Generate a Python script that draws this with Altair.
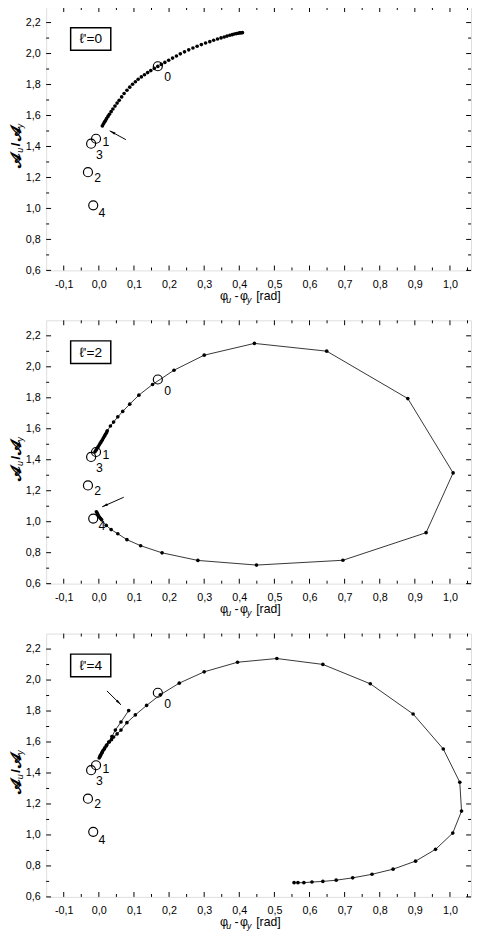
import math
import altair as alt
import pandas as pd

# ---------------- data ----------------
X_MIN, X_MAX = -0.15, 1.06
Y_MIN, Y_MAX = 0.6, 2.3
W, H = 434, 269

x_major = [-0.1, 0.0, 0.1, 0.2, 0.3, 0.4, 0.5, 0.6, 0.7, 0.8, 0.9, 1.0]
x_minor = [-0.05, 0.05, 0.15, 0.25, 0.35, 0.45, 0.55, 0.65, 0.75, 0.85, 0.95, 1.05]
y_major = [0.6, 0.8, 1.0, 1.2, 1.4, 1.6, 1.8, 2.0, 2.2]
y_minor = [0.7, 0.9, 1.1, 1.3, 1.5, 1.7, 1.9, 2.1]

# reference open circles (same in all panels)
ref_labels = ["0", "1", "3", "2", "4"]
ref_x = [0.168, -0.008, -0.022, -0.031, -0.016]
ref_y = [1.918, 1.450, 1.418, 1.234, 1.020]

# panel l'=0
p1_x = [0.010, 0.013, 0.016, 0.019, 0.022, 0.026, 0.030, 0.035, 0.040, 0.046,
        0.052, 0.058, 0.065, 0.072, 0.080, 0.088, 0.096, 0.104, 0.112, 0.121,
        0.130, 0.139, 0.148, 0.158, 0.168, 0.178, 0.188, 0.199, 0.210, 0.221,
        0.232, 0.244, 0.256, 0.268, 0.280, 0.292, 0.304, 0.316, 0.327, 0.338,
        0.348, 0.357, 0.365, 0.373, 0.380, 0.386, 0.392, 0.397, 0.401, 0.405, 0.409]
p1_y = [1.533, 1.545, 1.557, 1.568, 1.580, 1.594, 1.608, 1.625, 1.642, 1.661,
        1.680, 1.698, 1.720, 1.742, 1.763, 1.783, 1.802, 1.818, 1.834, 1.849,
        1.863, 1.877, 1.890, 1.904, 1.917, 1.930, 1.943, 1.957, 1.971, 1.984,
        1.998, 2.011, 2.024, 2.036, 2.047, 2.058, 2.068, 2.077, 2.086, 2.094,
        2.101, 2.107, 2.113, 2.118, 2.122, 2.126, 2.129, 2.131, 2.133, 2.134, 2.135]
p1_arrow_x = [0.077, 0.031]
p1_arrow_y = [1.444, 1.501]

# panel l'=2
p2_x = [-0.011, -0.008, -0.005, -0.002, 0.001, 0.004, 0.007, 0.010, 0.013, 0.016,
        0.019, 0.022, 0.024, 0.033, 0.042, 0.054, 0.068, 0.088, 0.114, 0.153,
        0.214, 0.300, 0.443, 0.649, 0.880, 1.009, 0.932, 0.695, 0.449, 0.282,
        0.180, 0.119, 0.080, 0.054, 0.035, 0.021, 0.008, 0.005, 0.002, -0.001,
        -0.003, -0.005, -0.007]
p2_y = [1.451, 1.462, 1.473, 1.484, 1.495, 1.506, 1.517, 1.528, 1.540, 1.552,
        1.564, 1.576, 1.587, 1.618, 1.643, 1.677, 1.712, 1.759, 1.817, 1.886,
        1.978, 2.075, 2.151, 2.101, 1.795, 1.315, 0.929, 0.751, 0.720, 0.750,
        0.799, 0.845, 0.884, 0.922, 0.949, 0.976, 1.012, 1.020, 1.029, 1.038,
        1.047, 1.056, 1.064]
p2_arrow_x = [0.071, 0.0095]
p2_arrow_y = [1.158, 1.096]

# panel l'=4
p3_x = [0.085, 0.063, 0.047, 0.037, 0.028, 0.021, 0.015, 0.010, 0.006, 0.003,
        0.001, 0.004, 0.008, 0.012, 0.017, 0.023, 0.030, 0.036, 0.042, 0.052,
        0.063, 0.080, 0.104, 0.136, 0.175, 0.229, 0.300, 0.395, 0.507, 0.638,
        0.773, 0.895, 0.981, 1.028, 1.033, 1.008, 0.959, 0.902, 0.838, 0.778,
        0.723, 0.676, 0.638, 0.607, 0.584, 0.567, 0.556]
p3_y = [1.803, 1.729, 1.677, 1.635, 1.600, 1.575, 1.553, 1.535, 1.518, 1.505,
        1.497, 1.512, 1.528, 1.545, 1.563, 1.582, 1.600, 1.615, 1.632, 1.652,
        1.677, 1.725, 1.775, 1.836, 1.905, 1.980, 2.053, 2.115, 2.139, 2.101,
        1.976, 1.781, 1.555, 1.340, 1.154, 1.012, 0.907, 0.831, 0.779, 0.746,
        0.723, 0.708, 0.700, 0.696, 0.692, 0.692, 0.692]
p3_arrow_x = [0.023, 0.063]
p3_arrow_y = [1.930, 1.840]

panel_labels = ["\u2113'=0", "\u2113'=2", "\u2113'=4"]

# axis title pieces (main text / subscripts)
x_title_parts = ["\u03c6", "u", "-", "\u03c6", "y", "[rad]"]
y_title_parts = ["\U0001D4D0", "u", "/", "\U0001D4D0", "y"]

# ---------------- styling ----------------
FONT = "Liberation Sans"
XS = alt.Scale(domain=[X_MIN, X_MAX], nice=False, zero=False)
YS = alt.Scale(domain=[Y_MIN, Y_MAX], nice=False, zero=False)
LBL = "replace(replace(format(datum.value, '.1f'), '.', ','), '\u2212', '-')"
X_AX = alt.Axis(values=x_major, labelExpr=LBL, ticks=False, domain=False, grid=False,
                title=None, labelFont=FONT, labelFontSize=11, labelColor="black",
                labelPadding=8, labelFlush=False)
Y_AX = alt.Axis(values=y_major, labelExpr=LBL, ticks=False, domain=False, grid=False,
                title=None, labelFont=FONT, labelFontSize=11, labelColor="black",
                labelPadding=6)

label_dx = {"0": 6.5, "1": 6.5, "3": 5, "2": 6.5, "4": 5.5}
label_dy = {"0": 11.5, "1": 3.5, "3": 11.5, "2": 6, "4": 8}
BLACK = alt.value("black")

# placement of title pieces (pixel centres relative to the plot area)
X_T_POS = [181.5, 186.5, 194.5, 202, 207.5, 227]
X_T_SUB = [False, True, False, False, True, False]
Y_T_POS = [158, 147.5, 141.5, 131, 122.5]
Y_T_SUB = [False, True, False, False, True]


def tick_layers():
    out = []
    for vals, ln in ((x_major, 5), (x_minor, 3)):
        d = pd.DataFrame({"v": vals})
        xe = alt.X("v:Q", scale=XS, axis=X_AX)
        out.append(alt.Chart(d).mark_rule(color="black", strokeWidth=1).encode(
            x=xe, y=alt.value(H), y2=alt.value(H - ln)))
        out.append(alt.Chart(d).mark_rule(color="black", strokeWidth=1).encode(
            x=xe, y=alt.value(0), y2=alt.value(ln)))
    for vals, ln in ((y_major, 5), (y_minor, 3)):
        d = pd.DataFrame({"v": vals})
        ye = alt.Y("v:Q", scale=YS, axis=Y_AX)
        out.append(alt.Chart(d).mark_rule(color="black", strokeWidth=1).encode(
            y=ye, x=alt.value(0), x2=alt.value(ln)))
        out.append(alt.Chart(d).mark_rule(color="black", strokeWidth=1).encode(
            y=ye, x=alt.value(W), x2=alt.value(W - ln)))
    return out


def title_layers():
    out = []
    d0 = pd.DataFrame({"a": [0]})
    for txt, px, sub in zip(x_title_parts, X_T_POS, X_T_SUB):
        out.append(alt.Chart(d0).mark_text(
            text=txt, font=FONT, fontSize=9 if sub else 12.5,
            fontStyle="italic" if sub else "normal",
            align="center", baseline="alphabetic").encode(
            x=alt.value(px), y=alt.value(H + 30 + (3 if sub else 0)), color=BLACK))
    for txt, py, sub in zip(y_title_parts, Y_T_POS, Y_T_SUB):
        out.append(alt.Chart(d0).mark_text(
            text=txt, font=FONT, fontSize=9 if sub else (15 if txt != "/" else 13),
            fontWeight="normal" if sub else "bold",
            fontStyle="italic" if sub else "normal", angle=270,
            align="center", baseline="middle").encode(
            x=alt.value(-27 if sub else -31), y=alt.value(py * H / 271), color=BLACK))
    return out


def panel(xs, ys, with_line, ax, ay, lab):
    df = pd.DataFrame({"x": xs, "y": ys, "i": list(range(len(xs)))})
    xe = alt.X("x:Q", scale=XS, axis=X_AX)
    ye = alt.Y("y:Q", scale=YS, axis=Y_AX)
    layers = tick_layers()
    if with_line:
        layers.append(alt.Chart(df).mark_line(color="black", strokeWidth=0.8).encode(
            x=xe, y=ye, order="i:Q"))
    layers.append(alt.Chart(df).mark_circle(color="black", size=14, opacity=1).encode(x=xe, y=ye))
    rdf = pd.DataFrame({"x": ref_x, "y": ref_y, "t": ref_labels})
    layers.append(alt.Chart(rdf).mark_point(shape="circle", filled=False, color="black",
                                            size=85, strokeWidth=1.2, opacity=1).encode(x=xe, y=ye))
    for t in ref_labels:
        sub = rdf[rdf.t == t]
        layers.append(alt.Chart(sub).mark_text(font=FONT, fontSize=12.5, align="left",
                                               baseline="middle",
                                               dx=label_dx[t], dy=label_dy[t]).encode(
            x=xe, y=ye, text="t:N", color=BLACK))
    # arrow
    adf = pd.DataFrame({"x": [ax[0]], "y": [ay[0]], "x2": [ax[1]], "y2": [ay[1]]})
    layers.append(alt.Chart(adf).mark_rule(color="black", strokeWidth=1).encode(
        x=xe, y=ye, x2="x2:Q", y2="y2:Q"))
    kx = W / (X_MAX - X_MIN)
    ky = H / (Y_MAX - Y_MIN)
    dxp = (ax[1] - ax[0]) * kx
    dyp = -(ay[1] - ay[0]) * ky
    ang = math.degrees(math.atan2(dxp, -dyp)) % 360
    hdf = pd.DataFrame({"x": [ax[1]], "y": [ay[1]]})
    layers.append(alt.Chart(hdf).mark_point(
        shape="M0,0L0.45,2.2L-0.45,2.2Z", filled=True, color="black", size=30,
        angle=ang, opacity=1).encode(x=xe, y=ye))
    # panel label box
    d0 = pd.DataFrame({"a": [0]})
    layers.append(alt.Chart(d0).mark_rect(fill="white", stroke="black", strokeWidth=1.5).encode(
        x=alt.value(25), x2=alt.value(66), y=alt.value(21), y2=alt.value(44)))
    layers.append(alt.Chart(d0).mark_text(text=lab, font=FONT, fontSize=14, align="center",
                                          baseline="middle").encode(
        x=alt.value(45.5), y=alt.value(33), color=BLACK))
    layers += title_layers()
    return alt.layer(*layers).properties(width=W, height=H)


p1 = panel(p1_x, p1_y, False, p1_arrow_x, p1_arrow_y, panel_labels[0])
p2 = panel(p2_x, p2_y, True, p2_arrow_x, p2_arrow_y, panel_labels[1])
p3 = panel(p3_x, p3_y, True, p3_arrow_x, p3_arrow_y, panel_labels[2])

chart = alt.vconcat(p1, p2, p3, spacing=14).properties(
    padding={"top": -12, "left": 0, "right": 0, "bottom": 0}).configure_view(
    stroke="black", strokeWidth=1.2).configure(background="white")

chart.save("out.html", embed_options={"renderer": "svg", "actions": False})
